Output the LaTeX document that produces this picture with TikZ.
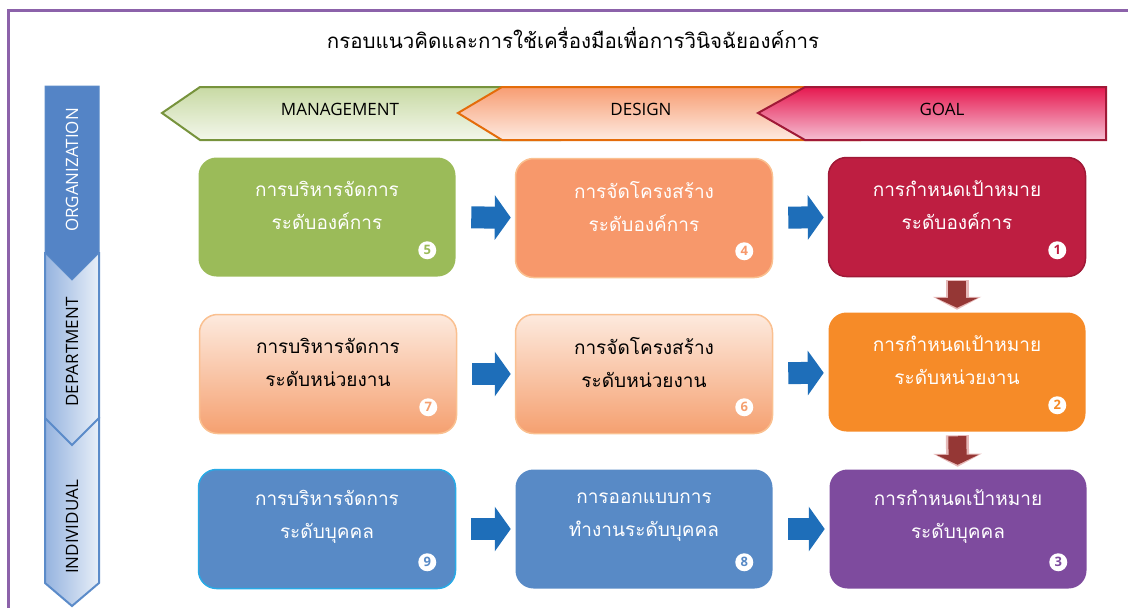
\documentclass[tikz,border=0pt]{standalone}
\usepackage{fontspec}
\setmainfont{Open Sans}
\newfontfamily\thaifont[Script=Thai]{Loma}
\usetikzlibrary{calc,arrows.meta}

\definecolor{framepurple}{RGB}{140,98,170}
\definecolor{mgmtgreen}{RGB}{155,187,89}
\definecolor{mgmtline}{RGB}{119,147,60}
\definecolor{designsalmon}{RGB}{247,152,107}
\definecolor{designline}{RGB}{228,108,10}
\definecolor{paleorange}{RGB}{250,192,144}
\definecolor{goalcrimson}{RGB}{190,30,65}
\definecolor{goalline}{RGB}{160,25,55}
\definecolor{goaltop}{RGB}{230,25,80}
\definecolor{goalpink}{RGB}{245,190,210}
\definecolor{deptlight}{RGB}{253,234,222}
\definecolor{deptdark}{RGB}{245,160,112}
\definecolor{deptorange}{RGB}{246,139,40}
\definecolor{indblue}{RGB}{88,138,198}
\definecolor{indline}{RGB}{40,170,230}
\definecolor{indpurple}{RGB}{126,75,158}
\definecolor{arrowblue}{RGB}{30,110,185}
\definecolor{downred}{RGB}{149,55,53}
\definecolor{downpink}{RGB}{230,185,184}
\definecolor{levelblue}{RGB}{84,132,198}
\definecolor{levelline}{RGB}{91,139,201}
\definecolor{levellight}{RGB}{232,239,248}
\definecolor{levelmid}{RGB}{149,179,223}

\begin{document}
\begin{tikzpicture}[x=1pt,y=-1pt,
  box/.style={rounded corners=18pt,minimum width=257pt,minimum height=119pt,line width=1.5pt},
  boxtext/.style={font=\thaifont\fontsize{19}{33}\selectfont,align=center,text=white},
  num/.style={circle,fill=white,inner sep=0pt,minimum size=18pt,font=\bfseries\fontsize{13}{13}\selectfont},
  headlabel/.style={font=\fontsize{17}{20}\selectfont},
  levellabel/.style={rotate=90,font=\fontsize{17}{20}\selectfont},
  flow/.style={draw=arrowblue,line width=22pt,-{Triangle[length=16pt,width=44pt]},shorten <=15pt,shorten >=4pt},
  downglow/.style={draw=downpink,line width=23pt,-{Triangle[length=13pt,width=48pt]},shorten <=3pt,shorten >=2pt},
  down/.style={draw=downred,line width=18pt,-{Triangle[length=10pt,width=42pt]},shorten <=4pt,shorten >=4pt}]

  \useasboundingbox (0,0) rectangle (1128,608);

  % frame and title
  \draw[framepurple,line width=3pt] (8,608) -- (8,10) -- (1128,10);
  \node[font=\thaifont\fontsize{20.5}{24}\selectfont] (title) at (573,38) {กรอบแนวคิดและการใช้เครื่องมือเพื่อการวินิจฉัยองค์การ};

  % header chevrons
  \shade[top color=mgmtgreen!55,bottom color=mgmtgreen!12,draw=mgmtline,line width=2pt]
    (162,113) -- (200,87) -- (560,87) -- (560,140) -- (200,140) -- cycle;
  \shade[top color=designsalmon!95,bottom color=designsalmon!20,draw=designline,line width=2pt]
    (458,113) -- (502,87) -- (860,87) -- (860,140) -- (502,140) -- cycle;
  \shade[top color=goaltop,bottom color=goalpink,draw=goalline,line width=2pt]
    (758,113) -- (805,87) -- (1106,87) -- (1106,140) -- (805,140) -- cycle;
  \node[headlabel] (mgmtlabel) at (340,109) {MANAGEMENT};
  \node[headlabel] (designlabel) at (641,109) {DESIGN};
  \node[headlabel] (goallabel) at (942,109) {GOAL};

  % level chevrons
  \shade[left color=levelmid,right color=levellight,draw=levelline,line width=2pt]
    (45,418) -- (99,418) -- (99,583) -- (72,606) -- (45,583) -- cycle;
  \shade[left color=levelmid,right color=levellight,draw=levelline,line width=2pt]
    (45,253) -- (99,253) -- (99,418) -- (72,445) -- (45,418) -- cycle;
  \fill[levelblue,draw=levelline,line width=1pt]
    (45,86) -- (99,86) -- (99,253) -- (72,280) -- (45,253) -- cycle;
  \node[levellabel,text=white] (orglabel) at (72,170) {ORGANIZATION};
  \node[levellabel] (deptlabel) at (72,352) {DEPARTMENT};
  \node[levellabel] (indlabel) at (72,527) {INDIVIDUAL};

  % boxes
  \node[box,fill=mgmtgreen] (orgmgmt) at (327,217) {};
  \node[box,fill=designsalmon,draw=paleorange] (orgdesign) at (644,218) {};
  \node[box,fill=goalcrimson,draw=goalline] (orggoal) at (957,217) {};
  \node[box,top color=deptlight,bottom color=deptdark,draw=paleorange] (deptmgmt) at (328,374) {};
  \node[box,top color=deptlight,bottom color=deptdark,draw=paleorange] (deptdesign) at (644,374) {};
  \node[box,fill=deptorange] (deptgoal) at (957,372) {};
  \node[box,fill=indblue,draw=indline] (indmgmt) at (327,529) {};
  \node[box,fill=indblue] (inddesign) at (644,529) {};
  \node[box,fill=indpurple] (indgoal) at (958,529) {};

  \node[boxtext] at ($(orgmgmt)+(0,-12)$) {การบริหารจัดการ\\ระดับองค์การ};
  \node[boxtext] at ($(orgdesign)+(0,-12)$) {การจัดโครงสร้าง\\ระดับองค์การ};
  \node[boxtext] at ($(orggoal)+(0,-12)$) {การกำหนดเป้าหมาย\\ระดับองค์การ};
  \node[boxtext,text=black] at ($(deptmgmt)+(0,-12)$) {การบริหารจัดการ\\ระดับหน่วยงาน};
  \node[boxtext,text=black] at ($(deptdesign)+(0,-12)$) {การจัดโครงสร้าง\\ระดับหน่วยงาน};
  \node[boxtext] at ($(deptgoal)+(0,-12)$) {การกำหนดเป้าหมาย\\ระดับหน่วยงาน};
  \node[boxtext] at ($(indmgmt)+(0,-12)$) {การบริหารจัดการ\\ระดับบุคคล};
  \node[boxtext] at ($(inddesign)+(0,-12)$) {การออกแบบการ\\ทำงานระดับบุคคล};
  \node[boxtext] at ($(indgoal)+(0,-12)$) {การกำหนดเป้าหมาย\\ระดับบุคคล};

  % step numbers
  \node[num,text=goalcrimson] (n1) at ($(orggoal.south east)+(-29,-27)$) {1};
  \node[num,text=deptorange] (n2) at ($(deptgoal.south east)+(-29,-27)$) {2};
  \node[num,text=indpurple] (n3) at ($(indgoal.south east)+(-29,-27)$) {3};
  \node[num,text=designsalmon] (n4) at ($(orgdesign.south east)+(-29,-27)$) {4};
  \node[num,text=mgmtgreen] (n5) at ($(orgmgmt.south east)+(-29,-27)$) {5};
  \node[num,text=deptdark] (n6) at ($(deptdesign.south east)+(-29,-27)$) {6};
  \node[num,text=deptdark] (n7) at ($(deptmgmt.south east)+(-29,-27)$) {7};
  \node[num,text=indblue] (n8) at ($(inddesign.south east)+(-29,-27)$) {8};
  \node[num,text=indblue] (n9) at ($(indmgmt.south east)+(-29,-27)$) {9};

  % connectors
  \draw[flow] (orgmgmt) -- (orgdesign);
  \draw[flow] (orgdesign) -- (orggoal);
  \draw[flow] (deptmgmt) -- (deptdesign);
  \draw[flow] (deptdesign) -- (deptgoal);
  \draw[flow] (indmgmt) -- (inddesign);
  \draw[flow] (inddesign) -- (indgoal);
  \draw[downglow] (orggoal) -- (deptgoal);
  \draw[down] (orggoal) -- (deptgoal);
  \draw[downglow] (deptgoal) -- (indgoal);
  \draw[down] (deptgoal) -- (indgoal);

\end{tikzpicture}
\end{document}
